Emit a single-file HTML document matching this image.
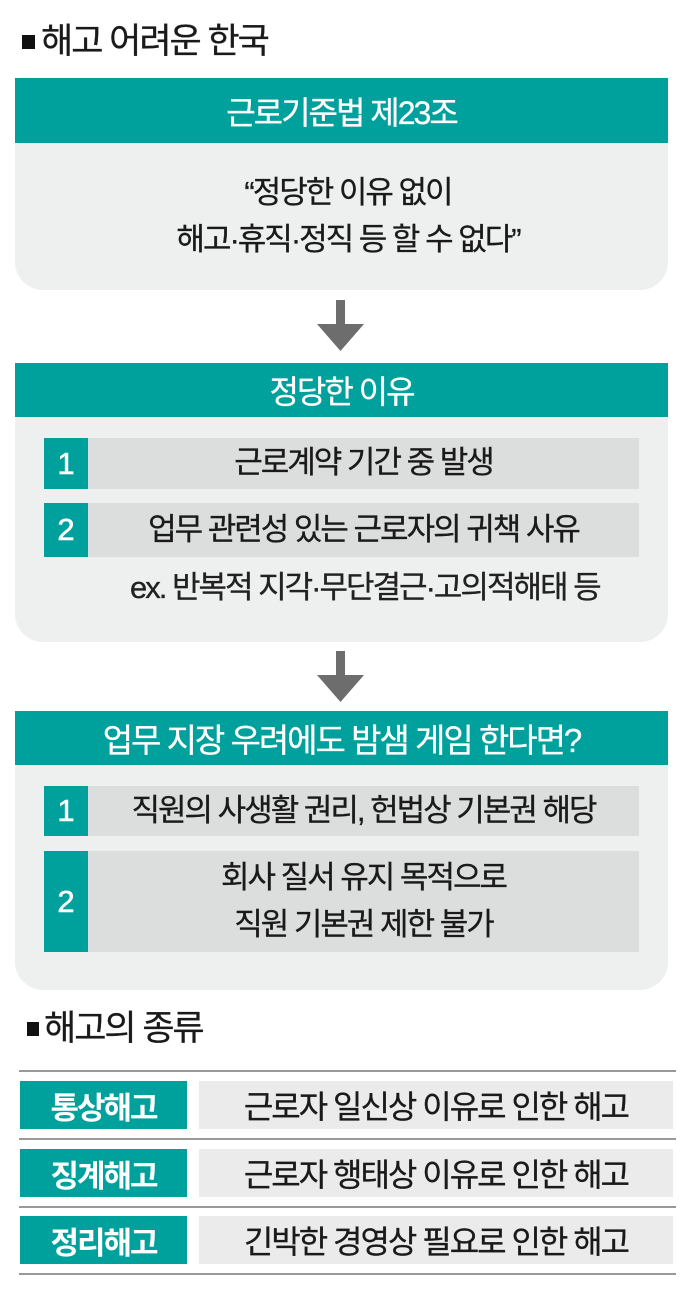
<!DOCTYPE html>
<html><head><meta charset="utf-8"><style>
*{margin:0;padding:0;box-sizing:border-box}
body{width:696px;height:1304px;background:#fff;position:relative;font-family:"Liberation Sans","Noto Sans CJK KR",sans-serif;color:#1a1a1a;overflow:hidden}
.a{position:absolute}
.t{position:absolute;white-space:nowrap;letter-spacing:-2px;line-height:1;-webkit-text-stroke:0.3px #1a1a1a}
.c{left:0;right:0;text-align:center}
.hd{background:#00a19c;color:#fff;font-size:32px;display:flex;align-items:center;justify-content:center;letter-spacing:-2px;-webkit-text-stroke:0.3px #fff}
.box{background:#eeefef;border-radius:0 0 28px 28px}
.num{background:#00a19c;color:#fff;font-size:31px;display:flex;align-items:center;justify-content:center;-webkit-text-stroke:0.6px #fff}
.row{background:#dcdddd;font-size:31px;display:flex;align-items:center;justify-content:center;letter-spacing:-2px;text-align:center;line-height:1.5;-webkit-text-stroke:0.3px #1a1a1a}
.ln{position:absolute;left:19px;width:657px;height:2px;background:#999}
.tg{background:#00a19c;color:#fff;font-size:31px;font-weight:bold;display:flex;align-items:center;justify-content:center;letter-spacing:-2px}
.gr{background:#ebebeb;font-size:32px;display:flex;align-items:center;justify-content:center;letter-spacing:-2px;-webkit-text-stroke:0.3px #1a1a1a}
</style></head><body>
<div class="t" style="left:22px;top:24px;font-size:35px"><span style="display:inline-block;width:13px;height:14px;background:#111;margin-right:6px;vertical-align:4px"></span>해고 어려운 한국</div>

<div class="a box" style="left:15px;top:78px;width:653px;height:212px"></div>
<div class="a hd" style="left:15px;top:78px;width:653px;height:65px">근로기준법 제23조</div>
<div class="t c" style="top:177px;font-size:31px">“정당한 이유 없이</div>
<div class="t c" style="top:224px;font-size:31px">해고·휴직·정직 등 할 수 없다”</div>

<svg class="a" style="left:0;top:298px" width="696" height="56"><rect x="336" y="2" width="9" height="26" fill="#6d6d6d"/><polygon points="317,26 364,26 340.5,53" fill="#6d6d6d"/></svg>

<div class="a box" style="left:15px;top:363px;width:653px;height:279px"></div>
<div class="a hd" style="left:15px;top:363px;width:653px;height:54px">정당한 이유</div>
<div class="a num" style="left:44px;top:438px;width:44px;height:51px">1</div>
<div class="a row" style="left:88px;top:438px;width:551px;height:51px">근로계약 기간 중 발생</div>
<div class="a num" style="left:44px;top:503px;width:44px;height:54px">2</div>
<div class="a row" style="left:88px;top:503px;width:551px;height:54px">업무 관련성 있는 근로자의 귀책 사유</div>
<div class="t" style="left:130px;top:572px;font-size:31px;color:#222">ex. 반복적 지각·무단결근·고의적해태 등</div>

<svg class="a" style="left:0;top:649px" width="696" height="56"><rect x="336" y="2" width="9" height="26" fill="#6d6d6d"/><polygon points="317,26 364,26 340.5,53" fill="#6d6d6d"/></svg>

<div class="a box" style="left:15px;top:711px;width:653px;height:279px"></div>
<div class="a hd" style="left:15px;top:711px;width:653px;height:54px;font-size:33px">업무 지장 우려에도 밤샘 게임 한다면?</div>
<div class="a num" style="left:44px;top:786px;width:44px;height:50px">1</div>
<div class="a row" style="left:88px;top:786px;width:551px;height:50px">직원의 사생활 권리, 헌법상 기본권 해당</div>
<div class="a num" style="left:44px;top:851px;width:44px;height:101px">2</div>
<div class="a row" style="left:88px;top:851px;width:551px;height:101px">회사 질서 유지 목적으로<br>직원 기본권 제한 불가</div>

<div class="t" style="left:27px;top:1011px;font-size:35px"><span style="display:inline-block;width:12px;height:14px;background:#111;margin-right:5px;vertical-align:4px"></span>해고의 종류</div>

<div class="ln" style="top:1070px"></div>
<div class="ln" style="top:1138px"></div>
<div class="ln" style="top:1206px"></div>
<div class="ln" style="top:1273px"></div>
<div class="a tg" style="left:20px;top:1081px;width:167px;height:48px">통상해고</div>
<div class="a gr" style="left:199px;top:1081px;width:474px;height:48px">근로자 일신상 이유로 인한 해고</div>
<div class="a tg" style="left:20px;top:1149px;width:167px;height:48px">징계해고</div>
<div class="a gr" style="left:199px;top:1149px;width:474px;height:48px">근로자 행태상 이유로 인한 해고</div>
<div class="a tg" style="left:20px;top:1216px;width:167px;height:48px">정리해고</div>
<div class="a gr" style="left:199px;top:1216px;width:474px;height:48px">긴박한 경영상 필요로 인한 해고</div>
</body></html>
